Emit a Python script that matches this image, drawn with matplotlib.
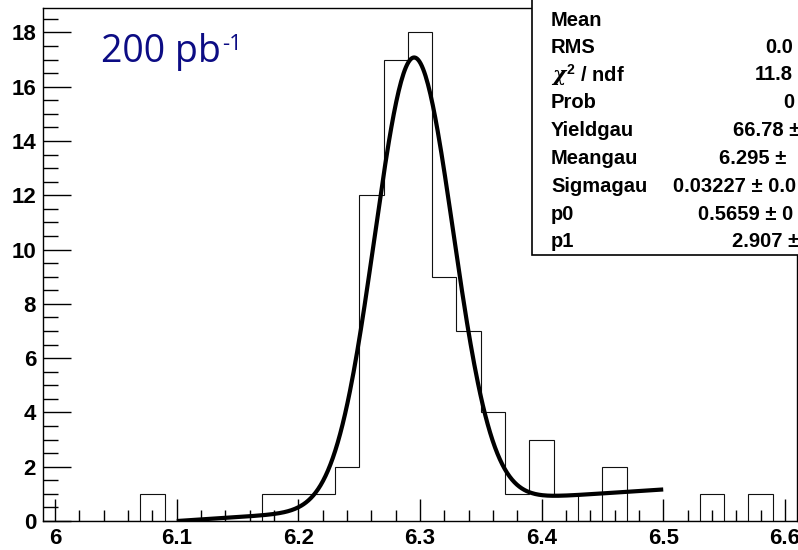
import numpy as np
import matplotlib
matplotlib.use('Agg')
import matplotlib.pyplot as plt
from matplotlib.ticker import MultipleLocator, FuncFormatter

# histogram: 31 bins of 0.02 from 5.99 to 6.61
bin_lo = 5.99
bin_w = 0.02
counts = [0, 0, 0, 0, 1, 0, 0, 0, 0, 1, 1, 1, 2, 12, 17, 18, 9, 7, 4, 1,
          3, 1, 0, 2, 0, 0, 0, 1, 0, 1, 0]

# fit parameters from the stat box
yield_gau = 66.78
mean_gau = 6.295
sigma_gau = 0.03227
p0 = 0.5659
p1 = 2.907
fit_range = (6.1, 6.5)

# stat box text (values are cut by the right edge of the picture)
stat_labels = ['Mean', 'RMS', r'$\chi^2$ / ndf', 'Prob', 'Yieldgau', 'Meangau',
               'Sigmagau', 'p0', 'p1']
stat_values = ['', '0.0', '11.8', '0', '66.78 \u00b1', '6.295 \u00b1',
               '0.03227 \u00b1 0.0', '0.5659 \u00b1 0', '2.907 \u00b1']
stat_x = [None, 765, 755, 783, 733, 719, 673, 698, 732]

plt.rcParams['font.family'] = ['Liberation Sans', 'DejaVu Sans']
plt.rcParams['font.weight'] = 'bold'
plt.rcParams['mathtext.fontset'] = 'custom'
plt.rcParams['mathtext.rm'] = 'Liberation Sans:bold'
plt.rcParams['mathtext.it'] = 'DejaVu Serif:italic'

W, H = 798, 550
fig = plt.figure(figsize=(W / 100, H / 100), dpi=100)
ax = fig.add_axes([43 / W, (H - 521) / H, 754 / W, 513 / H])

edges = bin_lo + bin_w * np.arange(len(counts) + 1)
ax.stairs(counts, edges, color='#111111', linewidth=0.8)

def fit_func(x):
    amp = yield_gau * bin_w / (np.sqrt(2 * np.pi) * sigma_gau)
    return amp * np.exp(-0.5 * ((x - mean_gau) / sigma_gau) ** 2) + p0 + p1 * (x - mean_gau)

xf = np.linspace(fit_range[0], fit_range[1], 400)
ax.plot(xf, fit_func(xf), color='black', linewidth=3.0, solid_capstyle='butt')

ax.set_xlim(5.99, 6.61)
ax.set_ylim(0, 18.9)
ax.xaxis.set_major_locator(MultipleLocator(0.1))
ax.xaxis.set_minor_locator(MultipleLocator(0.02))
ax.yaxis.set_major_locator(MultipleLocator(2))
ax.yaxis.set_minor_locator(MultipleLocator(0.5))
ax.xaxis.set_major_formatter(FuncFormatter(lambda v, p: '%g' % round(v, 2)))
ax.tick_params(which='both', direction='in', top=False, right=False, width=1.0)
ax.tick_params(which='major', axis='x', length=16, labelsize=16, pad=5)
ax.tick_params(which='minor', axis='x', length=8)
ax.tick_params(which='major', axis='y', length=20, labelsize=16, pad=5)
ax.tick_params(which='minor', axis='y', length=11)
for lab in ax.get_xticklabels() + ax.get_yticklabels():
    lab.set_fontweight('bold')
for s in ax.spines.values():
    s.set_linewidth(1.0)

# luminosity label
lumi = fig.text(101 / W, 1 - 52 / H, '200 pb', color='#0c0c84', fontsize=27,
                family=['Open Sans', 'DejaVu Sans'], fontweight='normal',
                va='center', ha='left')
fig.canvas.draw()
bb = lumi.get_window_extent(fig.canvas.get_renderer())
fig.text(bb.x1 / W + 0.002, bb.y1 / H - 0.002, '-1', color='#0c0c84', fontsize=16,
         family=['Open Sans', 'DejaVu Sans'], fontweight='normal',
         va='top', ha='left')

# stat box
fig.patches.append(plt.Rectangle((532 / W, 1 - 255 / H), 300 / W, 270 / H,
                                 transform=fig.transFigure, facecolor='white',
                                 edgecolor='black', linewidth=1.2, zorder=5))
row_y = [20, 47.5, 75, 103, 131, 158, 186, 214, 242]
for lab, val, xv, yy in zip(stat_labels, stat_values, stat_x, row_y):
    fig.text(551 / W, 1 - yy / H, lab, fontsize=14.5, fontweight='bold',
             va='center', ha='left', zorder=6)
    if xv is not None:
        fig.text(xv / W, 1 - yy / H, val, fontsize=14.5, fontweight='bold',
                 va='center', ha='left', zorder=6)

fig.savefig('out.png', dpi=100)
